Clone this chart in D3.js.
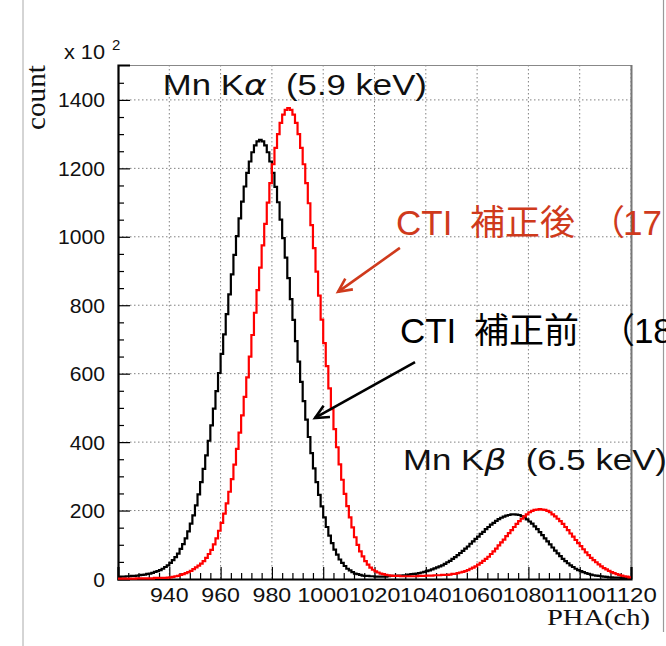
<!DOCTYPE html>
<html><head><meta charset="utf-8">
<script src="https://cdn.jsdelivr.net/npm/d3@7"></script>
<style>body{margin:0;background:#fff}svg{display:block}</style>
</head><body>
<svg id="c" width="666" height="646"></svg>
<script>
// ---- data (counts in units of 10^2, one value per 1-channel bin, 920..1119) ----
const binStart = 920;
const binWidth = 1;
const countsBefore = [
  6,7,7,8,8,9,9,10,11,12,
  13,15,16,18,21,23,26,30,35,40,
  47,55,64,74,88,102,119,139,162,186,
  215,247,283,322,361,404,449,498,549,602,
  658,715,774,832,890,947,1002,1054,1103,1147,
  1187,1220,1247,1267,1279,1283,1279,1267,1247,1220,
  1187,1146,1101,1050,996,939,879,818,757,695,
  635,576,520,466,415,368,323,283,246,212,
  180,152,127,105,86,71,57,47,38,30,
  25,20,16,14,12,10,9,9,8,8,
  7,7,7,7,7,8,9,9,9,10,
  10,11,11,13,14,15,16,17,19,21,
  23,25,28,31,34,37,40,44,49,53,
  59,64,70,76,82,89,95,103,110,117,
  124,132,138,146,152,159,164,170,175,179,
  182,185,187,189,189,188,187,184,180,174,
  168,162,154,146,137,128,119,110,101,92,
  83,75,67,59,52,46,40,35,30,26,
  23,20,17,15,13,11,10,9,8,7,
  6,5,5,4,4,4,3,3,3,3
];
const countsAfter = [
  1,1,1,1,1,1,1,2,2,2,
  2,2,2,2,3,3,3,3,3,4,
  5,6,8,9,12,14,17,20,24,29,
  34,39,45,52,62,73,85,101,119,141,
  164,191,221,255,292,334,380,428,478,532,
  589,650,713,778,844,910,975,1038,1100,1157,
  1212,1260,1300,1333,1357,1371,1376,1371,1357,1333,
  1300,1260,1212,1157,1098,1034,967,898,828,758,
  689,622,557,496,438,385,335,290,249,213,
  180,151,122,100,81,66,52,42,33,27,
  22,19,16,14,12,11,10,9,9,9,
  8,8,8,8,8,8,8,9,9,9,
  10,10,10,11,11,11,12,12,12,13,
  15,15,17,19,21,23,26,30,33,37,
  42,47,53,59,65,73,81,89,98,107,
  115,125,134,143,152,161,169,176,183,189,
  195,199,202,203,204,203,202,199,195,189,
  183,176,169,161,152,143,133,124,114,105,
  96,87,78,70,62,55,49,43,37,32,
  28,24,20,17,14,12,10,8,7,5
];
const xTickValues = [940,960,980,1000,1020,1040,1060,1080,1100,1120];
const yTickValues = [0,200,400,600,800,1000,1200,1400];
const xDomain = [920,1120];
const yDomain = [0,1502];
const xTitle = "PHA(ch)";
const yTitle = "count";
const yExponent = ["x 10", "2"];
const peakLabels = [
  {pre:"Mn K", greek:"α", post:"  (5.9 keV)", ch:937.5, v:1415},
  {pre:"Mn K", greek:"β", post:"  (6.5 keV)", ch:1031.1, v:318.6}
];
const seriesLabels = [
  {text:"CTI", cjk:"補正後", paren:"（", num:"17", parenOff:194, numOff:227, color:"#cf3a1c", ch:1028.4, v:1005.6, from:[1029.9,967.5], to:[1005.8,839]},
  {text:"CTI", cjk:"補正前", paren:"（", num:"18", parenOff:200, numOff:234, color:"#000000", ch:1029.9, v:690, from:[1035.8,634], to:[996.8,470.6]}
];

// ---- drawing ----
const svg = d3.select("#c");
const W = 666, H = 646;
const L = 118, R = 631, T = 65, B = 579;
const x = d3.scaleLinear().domain(xDomain).range([L, R]);
const y = d3.scaleLinear().domain(yDomain).range([B, T]);
const sans = "'Liberation Sans', Arial, Helvetica, sans-serif";
const serif = "'Liberation Serif', 'Times New Roman', serif";
const cjk = "'Noto Sans CJK JP', sans-serif";

svg.append("rect").attr("width", W).attr("height", H).attr("fill", "#fff");
// slide border lines
svg.append("line").attr("x1",23).attr("x2",23).attr("y1",0).attr("y2",646).attr("stroke","#aaa").attr("stroke-width",1);
svg.append("line").attr("x1",663.5).attr("x2",663.5).attr("y1",0).attr("y2",632).attr("stroke","#999").attr("stroke-width",1.2);

// grid
const grid = svg.append("g").attr("stroke","#808080").attr("stroke-width",1).attr("stroke-dasharray","1.5,2.5");
grid.selectAll("line.gx").data(xTickValues).join("line")
  .attr("x1", d => x(d)).attr("x2", d => x(d)).attr("y1", T).attr("y2", B);
grid.selectAll("line.gy").data(yTickValues.filter(d => d > 0)).join("line")
  .attr("x1", L).attr("x2", R).attr("y1", d => y(d)).attr("y2", d => y(d));

// frame top / right
svg.append("line").attr("x1",L).attr("x2",R).attr("y1",T+0.5).attr("y2",T+0.5).attr("stroke","#888").attr("stroke-width",1.2);
svg.append("line").attr("x1",R+0.5).attr("x2",R+0.5).attr("y1",T).attr("y2",B).attr("stroke","#777").attr("stroke-width",2);

// axes (ticks inward)
const gx = svg.append("g").attr("transform", `translate(0,${B})`);
gx.call(d3.axisTop(x).tickValues(d3.range(924, 1120, 4).filter(d => (d - 920) % 20 !== 0)).tickSize(6).tickFormat(""));
gx.call(g => g.select(".domain").remove());
const gxMaj = svg.append("g").attr("transform", `translate(0,${B})`).call(d3.axisTop(x).tickValues(xTickValues).tickSize(12).tickFormat(""));
gxMaj.select(".domain").attr("stroke","#000").attr("stroke-width",2.2);

const gy = svg.append("g").attr("transform", `translate(${L},0)`);
gy.call(d3.axisRight(y).tickValues(d3.range(50, 1500, 50).filter(d => d % 200 !== 0)).tickSize(6).tickFormat(""));
gy.select(".domain").remove();
const gyMaj = svg.append("g").attr("transform", `translate(${L},0)`).call(d3.axisRight(y).tickValues(yTickValues).tickSize(12).tickFormat(""));
gyMaj.select(".domain").attr("stroke","#000").attr("stroke-width",2.2);
svg.selectAll(".tick line").attr("stroke","#000").attr("stroke-width",1.2);

// tick labels
svg.append("g").selectAll("text").data(xTickValues).join("text")
  .attr("x", d => x(d)).attr("y", 602).attr("text-anchor","middle")
  .attr("font-family", sans).attr("font-size", 20.5).attr("fill","#111")
  .attr("textLength", d => String(d).length * 12.9).attr("lengthAdjust","spacingAndGlyphs")
  .text(d => d);
svg.append("g").selectAll("text").data(yTickValues).join("text")
  .attr("x", 105).attr("y", d => y(d) + 7.5).attr("text-anchor","end")
  .attr("font-family", sans).attr("font-size", 19.5).attr("fill","#111")
  .attr("textLength", d => String(d).length * 11.75).attr("lengthAdjust","spacingAndGlyphs")
  .text(d => d);

// axis titles
svg.append("text").attr("x", 650).attr("y", 625).attr("text-anchor","end")
  .attr("font-family", serif).attr("font-size", 23).attr("fill","#111")
  .attr("textLength", 103).attr("lengthAdjust","spacingAndGlyphs").text(xTitle);
svg.append("text").attr("transform","translate(45,130) rotate(-90)")
  .attr("font-family", serif).attr("font-size", 27).attr("fill","#111")
  .attr("textLength", 65).attr("lengthAdjust","spacingAndGlyphs").text(yTitle);
svg.append("text").attr("x", 64).attr("y", 59).attr("font-family", sans).attr("font-size", 19.5).attr("fill","#111")
  .attr("textLength", 41).attr("lengthAdjust","spacingAndGlyphs").text(yExponent[0]);
svg.append("text").attr("x", 112).attr("y", 50).attr("font-family", sans).attr("font-size", 15).attr("fill","#111").text(yExponent[1]);

// histograms
const line = d3.line().x(d => x(d[0])).y(d => y(d[1])).curve(d3.curveStepAfter);
function steps(arr){
  const pts = arr.map((v,i) => [binStart + i*binWidth, v]);
  pts.push([binStart + arr.length*binWidth, arr[arr.length-1]]);
  return pts;
}
svg.append("path").attr("d", line(steps(countsBefore))).attr("fill","none").attr("stroke","#000").attr("stroke-width",2.2);
svg.append("path").attr("d", line(steps(countsAfter))).attr("fill","none").attr("stroke","#ff0000").attr("stroke-width",2.2);

// peak labels
peakLabels.forEach(p => {
  const t = svg.append("text").attr("x", x(p.ch)).attr("y", y(p.v))
    .attr("font-family", sans).attr("font-size", 29).attr("fill","#111")
    .attr("textLength", 264).attr("lengthAdjust","spacingAndGlyphs").attr("xml:space","preserve");
  t.append("tspan").text(p.pre);
  t.append("tspan").attr("font-style","italic").attr("font-family", "'DejaVu Sans', sans-serif").text(p.greek);
  t.append("tspan").text(p.post);
});

// series labels and arrows
seriesLabels.forEach(s => {
  const g = svg.append("g");
  const x0 = x(s.ch), y0 = y(s.v);
  g.append("text").attr("x", x0).attr("y", y0).attr("font-family", sans).attr("font-size", 35).attr("fill", s.color).text(s.text);
  g.append("text").attr("x", x0 + 74).attr("y", y0).attr("font-family", cjk).attr("font-size", 35).attr("fill", s.color).text(s.cjk);
  g.append("text").attr("x", x0 + s.parenOff).attr("y", y0).attr("font-family", cjk).attr("font-size", 35).attr("fill", s.color).text(s.paren);
  g.append("text").attr("x", x0 + s.numOff).attr("y", y0).attr("font-family", sans).attr("font-size", 35).attr("fill", s.color).text(s.num);
  const x1 = x(s.from[0]), y1 = y(s.from[1]), x2 = x(s.to[0]), y2 = y(s.to[1]);
  g.append("line").attr("x1",x1).attr("y1",y1).attr("x2",x2).attr("y2",y2).attr("stroke",s.color).attr("stroke-width",2.6);
  const ang = Math.atan2(y1 - y2, x1 - x2), len = 15, spread = 0.45;
  const head = [[x2 + len*Math.cos(ang+spread), y2 + len*Math.sin(ang+spread)],[x2,y2],[x2 + len*Math.cos(ang-spread), y2 + len*Math.sin(ang-spread)]];
  g.append("path").attr("d", d3.line()(head)).attr("fill","none").attr("stroke",s.color).attr("stroke-width",2.6).attr("stroke-linejoin","miter");
});
</script>
</body></html>
